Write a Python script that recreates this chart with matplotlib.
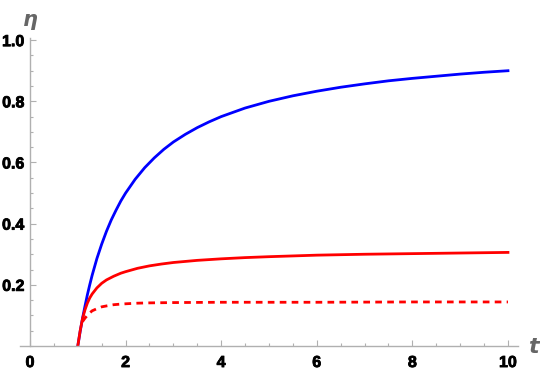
import numpy as np
import matplotlib.pyplot as plt
import matplotlib.patheffects as pe
from matplotlib.ticker import MultipleLocator

plt.rcParams['font.family'] = ['Liberation Sans', 'DejaVu Sans']

# values
t_blue = [1.0, 1.05, 1.1, 1.15, 1.2, 1.25, 1.3, 1.4, 1.5, 1.6, 1.7, 1.8, 1.9, 2.0, 2.2, 2.4, 2.6,
	2.8, 3.0, 3.25, 3.5, 3.75, 4.0, 4.5, 5.0, 5.5, 6.0, 6.5, 7.0, 7.5, 8.0, 8.5, 9.0, 9.5, 10.0]
eta_blue = [0.0, 0.048, 0.091, 0.13, 0.167, 0.2, 0.231, 0.286, 0.333, 0.375, 0.412, 0.444, 0.474,
	0.5, 0.545, 0.583, 0.615, 0.643, 0.667, 0.692, 0.714, 0.733, 0.75, 0.778, 0.8, 0.818, 0.833,
	0.846, 0.857, 0.867, 0.875, 0.882, 0.889, 0.895, 0.9]

t_red = [1.0, 1.05, 1.1, 1.15, 1.2, 1.25, 1.3, 1.4, 1.5, 1.6, 1.75, 1.9, 2.0, 2.25, 2.5, 2.75, 3.0,
	3.5, 4.0, 4.5, 5.0, 6.0, 7.0, 8.0, 9.0, 10.0]
eta_red = [0.0, 0.05, 0.09, 0.118, 0.14, 0.157, 0.17, 0.19, 0.205, 0.216, 0.228, 0.238, 0.243,
	0.254, 0.262, 0.268, 0.273, 0.28, 0.285, 0.289, 0.292, 0.297, 0.300, 0.302, 0.304, 0.306]

t_dash = [1.1, 1.15, 1.2, 1.25, 1.3, 1.4, 1.5, 1.6, 1.75, 1.9, 2.0, 2.25, 2.5, 3.0, 4.0, 6.0, 8.0, 10.0]
eta_dash = [0.08, 0.091, 0.10, 0.108, 0.115, 0.122, 0.128, 0.131, 0.135, 0.137, 0.138, 0.14,
	0.141, 0.142, 0.143, 0.143, 0.144, 0.144]

xticks = [0, 2, 4, 6, 8, 10]
yticks = [0.2, 0.4, 0.6, 0.8, 1.0]
ylabels = ['0.2', '0.4', '0.6', '0.8', '1.0']

fig = plt.figure(figsize=(5.4, 3.72), dpi=100)
ax = fig.add_axes([20/540, 26/372, 498/540, 308/372])

ax.plot(t_blue, eta_blue, color='#0000ff', lw=2.0, solid_joinstyle='round')
ax.plot(t_red, eta_red, color='#ff0000', lw=2.0, solid_joinstyle='round')
ax.plot(t_dash, eta_dash, color='#ff0000', lw=2.0, dashes=(2.4, 1.9))

ax.set_xlim(-0.209, 10.21)
ax.set_ylim(0, 1.007)

for s in ['top', 'right']:
	ax.spines[s].set_visible(False)
ax.spines['left'].set_position(('data', 0))
ax.spines['bottom'].set_position(('data', 0))
for s in ['left', 'bottom']:
	ax.spines[s].set_color('#b0b0b0')
	ax.spines[s].set_linewidth(1.0)

ax.set_xticks(xticks)
ax.set_yticks(yticks)
ax.xaxis.set_minor_locator(MultipleLocator(0.5))
ax.yaxis.set_minor_locator(MultipleLocator(0.05))
ax.tick_params(which='major', direction='in', length=4.5, color='#b0b0b0', width=0.8)
ax.tick_params(axis='x', which='major', pad=6.5)
ax.tick_params(axis='y', which='major', pad=4)
ax.tick_params(which='minor', direction='in', length=2.5, color='#b0b0b0', width=0.8)
ax.set_xticklabels([str(v) for v in xticks], fontsize=11.5, fontweight='bold')
ax.set_yticklabels(ylabels, fontsize=11.5, fontweight='bold')
for lab in ax.get_xticklabels() + ax.get_yticklabels():
	lab.set_path_effects([pe.withStroke(linewidth=0.6, foreground='black')])

fig.text(30/540, 1 - 20/372, 'η', color='#666666', fontsize=15, fontstyle='italic',
	fontweight='bold', family='DejaVu Sans', ha='center', va='center')
fig.text(533/540, 1 - 347/372, 't', color='#666666', fontsize=16, fontstyle='italic',
	fontweight='bold', family='DejaVu Sans', ha='center', va='center')

fig.savefig('out.png', dpi=100)
